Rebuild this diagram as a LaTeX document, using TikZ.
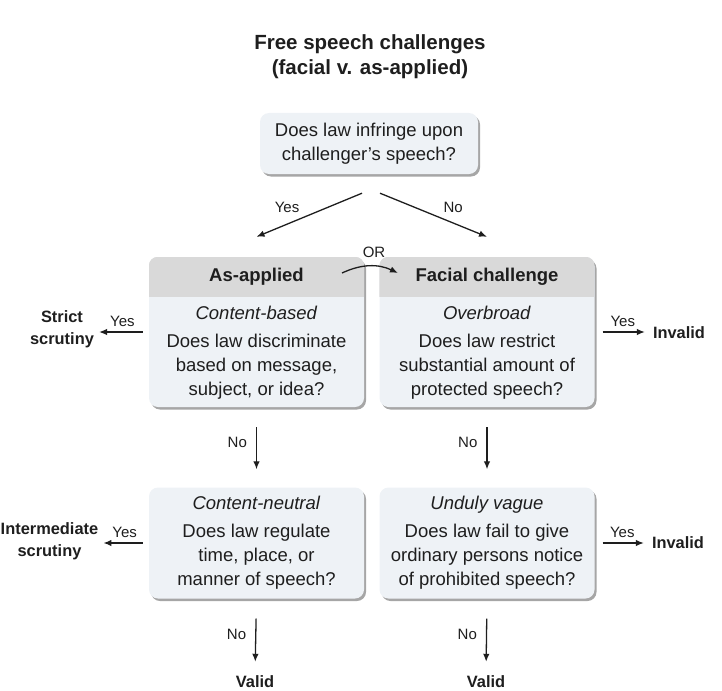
\documentclass[tikz,border=0pt]{standalone}
\usepackage{fontspec}
\setmainfont{Liberation Sans}
\usetikzlibrary{arrows.meta,shadows}

\definecolor{boxfill}{HTML}{EEF2F6}
\definecolor{headfill}{HTML}{D9D9D9}
\definecolor{ink}{HTML}{1E1E1E}

\begin{document}
\begin{tikzpicture}[x=1pt,y=-1pt,
	every node/.style={text=ink},
	qbox/.style={fill=boxfill, rounded corners=9pt, inner sep=0pt, align=center,
		drop shadow={shadow xshift=2pt, shadow yshift=-2.5pt, fill=black, opacity=0.35},
		font=\fontsize{18.5}{24}\selectfont},
	qtxt/.style={align=center, inner sep=0pt, font=\fontsize{18.5}{24}\selectfont},
	headtxt/.style={inner sep=0pt, font=\fontsize{18.5}{24}\selectfont\bfseries},
	lbl/.style={inner sep=1pt, font=\fontsize{15}{18}\selectfont},
	res/.style={align=center, inner sep=2pt, font=\fontsize{16.4}{22}\selectfont\bfseries},
	arr/.style={draw=ink, line width=1.3pt, -{Latex[length=8pt,width=6.5pt]}}]

	\useasboundingbox (0,0) rectangle (722,690);

	\node[align=center, font=\fontsize{20.5}{25}\selectfont\bfseries] (title) at (370,57) {Free speech challenges\\(facial v. as-applied)};

	\node[qbox, minimum width=218, minimum height=61] (infringe) at (369,143.5) {Does law infringe upon\\challenger's speech?};

	\node[qbox, minimum width=215, minimum height=150] (applied) at (256.5,332) {};
	\node[qbox, minimum width=215, minimum height=150] (facial) at (487,332) {};
	\begin{scope}
		\clip[rounded corners=9pt] (applied.north west) rectangle (applied.south east);
		\fill[headfill] (applied.north west) rectangle ([yshift=-40pt]applied.north east);
	\end{scope}
	\begin{scope}
		\clip[rounded corners=9pt] (facial.north west) rectangle (facial.south east);
		\fill[headfill] (facial.north west) rectangle ([yshift=-40pt]facial.north east);
	\end{scope}

	\node[headtxt] (appliedhd) at ([yshift=-20pt]applied.north) {As-applied};
	\node[headtxt] (facialhd) at ([yshift=-20pt]facial.north) {Facial challenge};
	\node[qtxt] (appliedq) at (256.5,353) {\textit{Content-based}\\[4pt]Does law discriminate\\based on message,\\subject, or idea?};
	\node[qtxt] (facialq) at (487,353) {\textit{Overbroad}\\[4pt]Does law restrict\\substantial amount of\\protected speech?};

	\node[qbox, minimum width=215, minimum height=111] (neutral) at (256.5,543) {\textit{Content-neutral}\\[4pt]Does law regulate\\time, place, or\\manner of speech?};
	\node[qbox, minimum width=215, minimum height=111] (vague) at (487,543) {\textit{Unduly vague}\\[4pt]Does law fail to give\\ordinary persons notice\\of prohibited speech?};

	\node[res] (strict) at (62,329) {Strict\\scrutiny};
	\node[res] (interm) at (49.5,541) {Intermediate\\scrutiny};
	\node[res] (invalidu) at (679,333) {Invalid};
	\node[res] (invalidl) at (678,543) {Invalid};
	\node[res] (validl) at (255,682) {Valid};
	\node[res] (validr) at (486,682) {Valid};

	\node[lbl] (or) at (374,252) {OR};
	\coordinate (orl) at (342,273);
	\coordinate (orr) at (398,273);
	\draw[arr] (orl) to[bend left=25] (orr);

	\draw[arr] ([xshift=-7pt,yshift=-19pt]infringe.south) -- ([yshift=20pt]applied.north) node[lbl, pos=0.55, above left=3pt] {Yes};
	\draw[arr] ([xshift=11pt,yshift=-19pt]infringe.south) -- ([yshift=20pt]facial.north) node[lbl, pos=0.55, above right=3pt] {No};

	\draw[arr, shorten <=6pt, shorten >=3pt] (applied.west) -- (applied.west -| strict.east) node[lbl, midway, above=4pt] {Yes};
	\draw[arr, shorten <=6pt, shorten >=3pt] (neutral.west) -- (neutral.west -| interm.east) node[lbl, midway, above=4pt] {Yes};
	\draw[arr, shorten <=8pt, shorten >=6pt] (facial.east) -- (facial.east -| invalidu.west) node[lbl, midway, above=4pt] {Yes};
	\draw[arr, shorten <=8pt, shorten >=6pt] (vague.east) -- (vague.east -| invalidl.west) node[lbl, midway, above=4pt] {Yes};

	\draw[arr, shorten <=20pt, shorten >=18pt] (applied.south) -- (neutral.north) node[lbl, pos=0.44, left=8pt] {No};
	\draw[arr, shorten <=20pt, shorten >=18pt] (facial.south) -- (vague.north) node[lbl, pos=0.44, left=8pt] {No};
	\draw[arr, shorten <=20pt, shorten >=12pt] (neutral.south) -- (validl.north) node[lbl, pos=0.47, left=8pt] {No};
	\draw[arr, shorten <=20pt, shorten >=12pt] (vague.south) -- (validr.north) node[lbl, pos=0.47, left=8pt] {No};

\end{tikzpicture}
\end{document}
